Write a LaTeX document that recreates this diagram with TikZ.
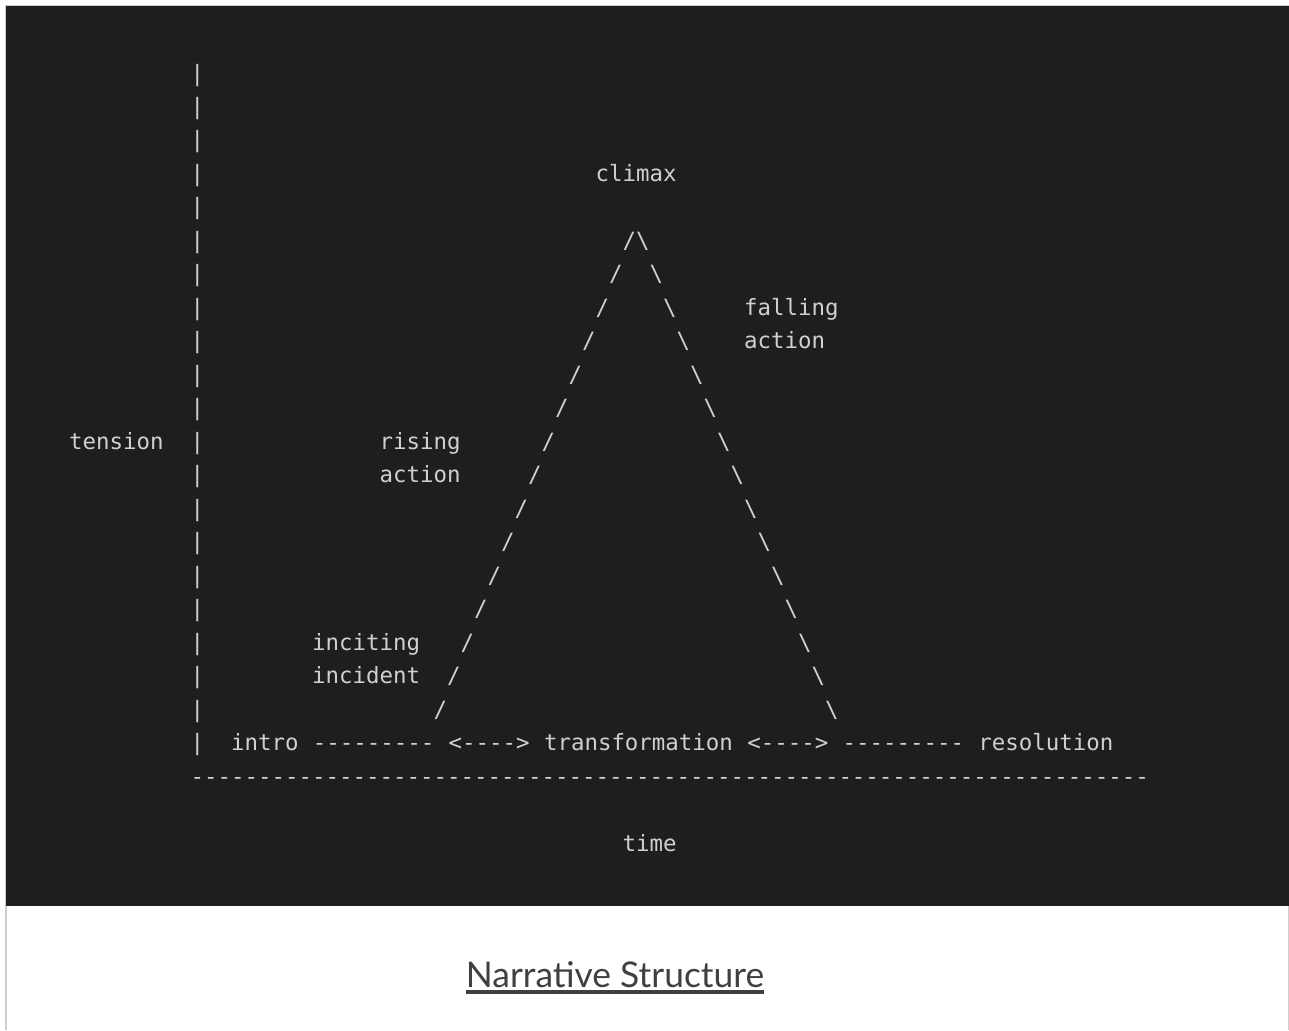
\documentclass[tikz,border=0pt]{standalone}
\usepackage{fontspec}
\setmainfont{Lato}
\setmonofont{DejaVu Sans Mono}
\usetikzlibrary{positioning}
\definecolor{screen}{HTML}{1E1E1E}
\definecolor{glyph}{HTML}{D0D0D0}
\definecolor{frame}{HTML}{CFCFCF}
\definecolor{caption}{HTML}{404040}
\tikzset{
  glyphs/.style={
    font=\ttfamily\fontsize{11.21pt}{16pt}\selectfont,
    text=glyph,
    inner sep=0pt,
  },
  ascii/.style={
    glyphs,
    anchor=base west,
    yshift=-4pt,
  },
  title text/.style={
    font=\fontsize{17.7pt}{22pt}\selectfont,
    text=caption,
    inner sep=0pt,
    anchor=base,
  }
}

\begin{document}
\begin{tikzpicture}[x=0.5pt, y=-0.5pt, node distance=6.75pt]
        \useasboundingbox (0,0) rectangle (1289,1030);
        \fill[white] (0,0) rectangle (1289,1030);
        \draw[frame, line width=1pt] (5.5,1030) -- (5.5,5.5) -- (1288.5,5.5) -- (1288.5,1030);
        \fill[screen] (6,6) rectangle (1289,906);

        % one unit = one character cell
        \begin{scope}[shift={(197,73)}, x=6.75pt, y=-16.74pt]
          \foreach \r in {0,...,20}
            \node [ascii] (bar\r) at (-0.5,\r) {|};
          \node [ascii] (tension) at (-9.5,11) {tension};

          \node [ascii] (climax) at (29.5,3) {climax};
          \foreach \r in {5,...,19} {
            \pgfmathtruncatemacro{\up}{37-\r}
            \pgfmathtruncatemacro{\dn}{\r+28}
            \node [ascii] (rise\r) at (\up-0.5,\r) {/};
            \node [ascii] (fall\r) at (\dn-0.5,\r) {\textbackslash};
          }

          \node [ascii] (falling) at (40.5,7) {falling};
          \node [ascii] (fallact) at (40.5,8) {action};
          \node [ascii] (rising) at (13.5,11) {rising};
          \node [ascii] (riseact) at (13.5,12) {action};
          \node [ascii] (inciting) at (8.5,17) {inciting};
          \node [ascii] (incident) at (8.5,18) {incident};

          \node [ascii] (intro) at (2.5,20) {intro};
          \node [glyphs, base right=of intro] (introdash) {---------};
          \node [glyphs, base right=of introdash] (leftarrow) {<---->};
          \node [glyphs, base right=of leftarrow] (transformation) {transformation};
          \node [glyphs, base right=of transformation] (rightarrow) {<---->};
          \node [glyphs, base right=of rightarrow] (resdash) {---------};
          \node [glyphs, base right=of resdash] (resolution) {resolution};

          \node [ascii] (axis) at (-0.5,21) {-----------------------------------------------------------------------};
          \node [ascii] (time) at (31.5,23) {time};
        \end{scope}

        \node [title text] (title) at (615,987) {Narrative Structure};
        \draw [caption, line width=1.8pt] ([yshift=-2.5pt]title.base west) -- ([yshift=-2.5pt]title.base east);
\end{tikzpicture}
\end{document}
